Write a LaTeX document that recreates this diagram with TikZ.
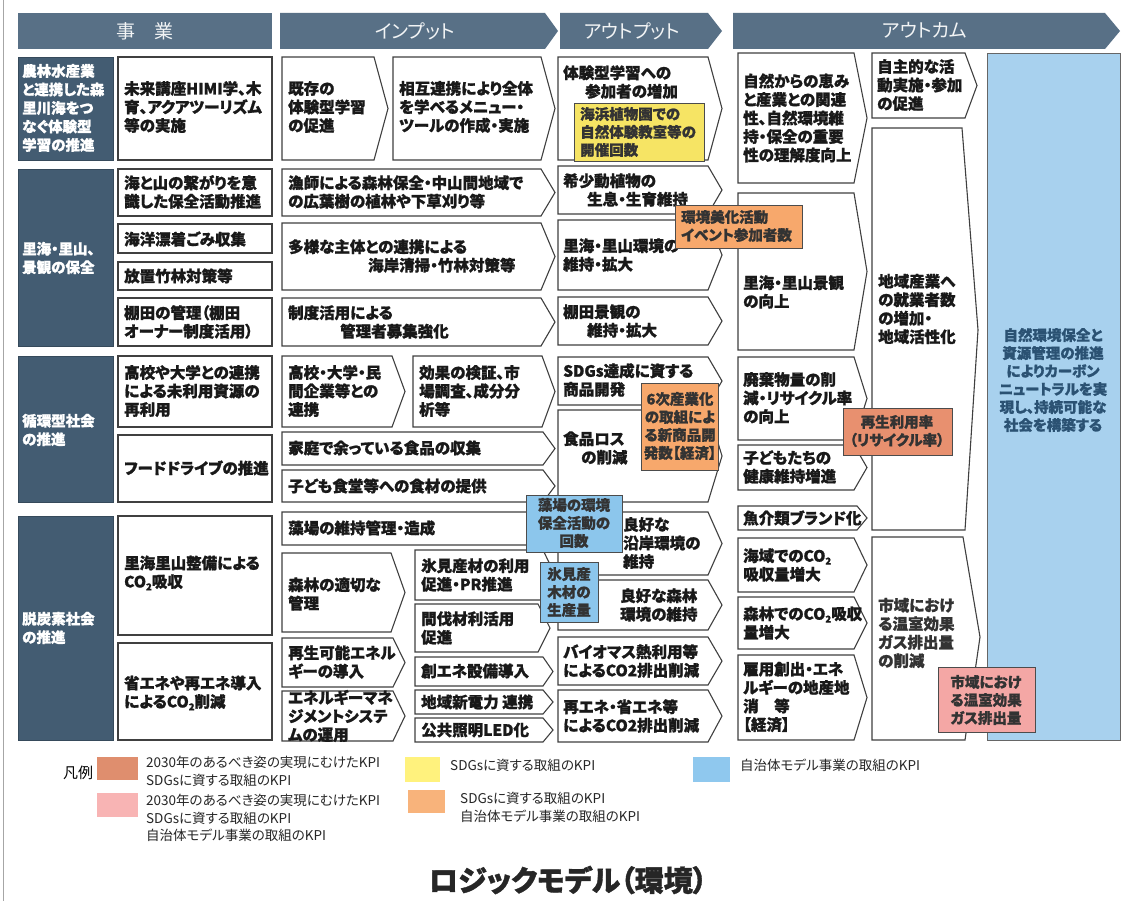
\documentclass[tikz,border=0pt]{standalone}
\usepackage{fontspec}
\setmainfont{Noto Sans CJK JP}[RawFeature=+palt, BoldFeatures={FakeBold=1.2}]
\definecolor{hdrc}{HTML}{587086}
\definecolor{catc}{HTML}{435C72}
\definecolor{bigblue}{HTML}{A8D1EE}
\definecolor{kblue}{HTML}{8CC6EC}
\definecolor{kyel}{HTML}{F6E464}
\definecolor{kora}{HTML}{F7A86C}
\definecolor{ksal}{HTML}{E8906F}
\definecolor{kpink}{HTML}{F4A7A5}
\definecolor{lsal}{HTML}{DF8E6E}
\definecolor{lpink}{HTML}{F8B4B4}
\definecolor{lyel}{HTML}{FFF27D}
\definecolor{lora}{HTML}{F8B37B}
\definecolor{lblue}{HTML}{8FC8EE}
\definecolor{bluetxt}{HTML}{2B5273}
\newcommand\chev[5]{\draw[box] (#1,#2) -- ({#3-#5},#2) -- (#3,{(#2+#4)/2}) -- ({#3-#5},#4) -- (#1,#4) -- cycle;}
\newcommand\cotwo{CO\raisebox{-0.35ex}{\fontsize{9.5}{9.5}\selectfont 2}}
\begin{document}
\begin{tikzpicture}[x=1pt,y=-1pt,
  box/.style={draw=black!75, line width=1.1pt, fill=white},
  hdr/.style={fill=hdrc},
  cat/.style={fill=catc, draw=catc!80!black, line width=0.6pt},
  kpi/.style={draw=black!70, line width=0.9pt},
  t/.style={font=\bfseries\fontsize{15.5}{18.5}\selectfont, align=left, inner sep=0pt, anchor=west, text=black!90},
  tk/.style={font=\bfseries\fontsize{14.5}{18}\selectfont, align=center, inner sep=0pt, text=black!80},
  ct/.style={font=\bfseries\fontsize{14.5}{18.5}\selectfont, align=left, inner sep=0pt, anchor=west, text=white},
  ht/.style={font=\fontsize{19}{22}\selectfont, text=white!92!hdrc, inner sep=0pt},
  lt/.style={font=\fontsize{13.5}{17.5}\selectfont, align=left, inner sep=0pt, anchor=north west, text=black!85}
]
\useasboundingbox (0,0) rectangle (1123,901);
\fill[white] (0,0) rectangle (1123,901);
\draw[gray!70, line width=1pt] (3,0) -- (3,901);

% headers
\fill[hdr] (18,13) rectangle (272,49);
\node[ht] (h1) at (145,31) {事　業};
\fill[hdr] (280,13) -- (545,13) -- (558,31) -- (545,49) -- (280,49) -- cycle;
\node[ht] (h2) at (415,31) {インプット};
\fill[hdr] (560,13) -- (708,13) -- (722,31) -- (708,49) -- (560,49) -- cycle;
\node[ht] (h3) at (632,31) {アウトプット};
\fill[hdr] (733,13) -- (1105,13) -- (1120,31) -- (1105,49) -- (733,49) -- cycle;
\node[ht] (h4) at (925,30) {アウトカム};

% category boxes
\draw[cat] (18,57) rectangle (113,160);
\node[ct] (c1) at (22,108) {農林水産業\\と連携した森\\里川海をつ\\なぐ体験型\\学習の推進};
\draw[cat] (18,169) rectangle (113,346);
\node[ct] (c2) at (22,258) {里海・里山、\\景観の保全};
\draw[cat] (18,356) rectangle (113,502);
\node[ct] (c3) at (22,430) {循環型社会\\の推進};
\draw[cat] (18,516) rectangle (113,740);
\node[ct] (c4) at (22,628) {脱炭素社会\\の推進};

% business boxes
\draw[box] (118,57) rectangle (272,160);
\node[t] (b1) at (124,107) {未来講座HIMI学、木\\育、アクアツーリズム\\等の実施};
\draw[box] (118,169) rectangle (272,216);
\node[t] (b2) at (124,192) {海と山の繋がりを意\\識した保全活動推進};
\draw[box] (118,224) rectangle (272,253);
\node[t] (b3) at (124,239) {海洋漂着ごみ収集};
\draw[box] (118,262) rectangle (272,290);
\node[t] (b4) at (124,276) {放置竹林対策等};
\draw[box] (118,298) rectangle (272,346);
\node[t] (b5) at (124,322) {棚田の管理（棚田\\オーナー制度活用）};
\draw[box] (118,356) rectangle (272,427);
\node[t] (b6) at (124,391) {高校や大学との連携\\による未利用資源の\\再利用};
\draw[box] (118,435) rectangle (272,502);
\node[t] (b7) at (124,468) {フードドライブの推進};
\draw[box] (118,516) rectangle (272,635);
\node[t] (b8) at (124,573) {里海里山整備による\\\cotwo 吸収};
\draw[box] (118,643) rectangle (272,740);
\node[t] (b9) at (124,693) {省エネや再エネ導入\\による\cotwo 削減};

% inputs
\chev{282}{57}{388}{160}{14}
\node[t] (i1) at (288,107) {既存の\\体験型学習\\の促進};
\chev{393}{57}{555}{160}{14}
\node[t] (i2) at (399,107) {相互連携により全体\\を学べるメニュー・\\ツールの作成・実施};
\chev{282}{169}{555}{216}{14}
\node[t] (i3) at (288,192) {漁師による森林保全・中山間地域で\\の広葉樹の植林や下草刈り等};
\chev{282}{223}{555}{290}{14}
\node[t] (i4) at (288,256) {多様な主体との連携による\\\hspace*{80pt}海岸清掃・竹林対策等};
\chev{282}{298}{555}{346}{14}
\node[t] (i5) at (288,322) {制度活用による\\\hspace*{52pt}管理者募集強化};
\chev{282}{356}{405}{427}{13}
\node[t] (i6) at (288,391) {高校・大学・民\\間企業等との\\連携};
\chev{413}{356}{555}{427}{13}
\node[t] (i7) at (419,391) {効果の検証、市\\場調査、成分分\\析等};
\chev{282}{432}{555}{465}{12}
\node[t] (i8) at (288,448) {家庭で余っている食品の収集};
\chev{282}{470}{555}{502}{12}
\node[t] (i9) at (288,486) {子ども食堂等への食材の提供};
\chev{282}{512}{560}{545}{12}
\node[t] (i10) at (288,528) {藻場の維持管理・造成};
\chev{282}{553}{405}{632}{14}
\node[t] (i11) at (288,594) {森林の適切な\\管理};
\chev{415}{550}{555}{600}{12}
\node[t] (i12) at (421,575) {氷見産材の利用\\促進・PR推進};
\chev{415}{604}{550}{652}{12}
\node[t] (i13) at (421,628) {間伐材利活用\\促進};
\chev{282}{638}{405}{687}{12}
\node[t] (i14) at (288,662) {再生可能エネル\\ギーの導入};
\chev{282}{691}{405}{741}{12}
\node[t] (i15) at (288,716) {エネルギーマネ\\ジメントシステ\\ムの運用};
\chev{415}{657}{553}{686}{10}
\node[t] (i16) at (421,671) {創エネ設備導入};
\chev{415}{690}{553}{714}{10}
\node[t] (i17) at (421,702) {地域新電力 連携};
\chev{415}{718}{553}{742}{10}
\node[t] (i18) at (421,730) {公共照明LED化};

% outputs
\chev{558}{57}{722}{160}{14}
\node[t] (o1) at (563,82) {体験型学習への\\\hspace*{22pt}参加者の増加};
\chev{558}{166}{722}{214}{14}
\node[t] (o2) at (563,190) {希少動植物の\\\hspace*{24pt}生息・生育維持};
\chev{558}{220}{722}{290}{14}
\node[t] (o3) at (563,255) {里海・里山環境の\\維持・拡大};
\chev{558}{297}{722}{345}{14}
\node[t] (o4) at (563,321) {棚田景観の\\\hspace*{24pt}維持・拡大};
\chev{558}{357}{722}{405}{14}
\node[t] (o5) at (563,380) {SDGs達成に資する\\商品開発};
\chev{558}{410}{722}{502}{14}
\node[t] (o6) at (563,448) {食品ロス\\\hspace*{18pt}の削減};
\chev{558}{512}{722}{575}{14}
\node[t] (o7) at (623,543) {良好な\\沿岸環境の\\維持};
\chev{558}{580}{722}{630}{14}
\node[t] (o8) at (620,605) {良好な森林\\環境の維持};
\chev{558}{637}{722}{685}{14}
\node[t] (o9) at (563,661) {バイオマス熱利用等\\によるCO2排出削減};
\chev{558}{690}{722}{742}{14}
\node[t] (o10) at (563,716) {再エネ・省エネ等\\によるCO2排出削減};

% outcomes
\chev{738}{53}{867}{183}{13}
\node[t] (u1) at (743,118) {自然からの恵み\\と産業との関連\\性、自然環境維\\持・保全の重要\\性の理解度向上};
\chev{738}{193}{867}{350}{13}
\node[t] (u2) at (743,292) {里海・里山景観\\の向上};
\chev{738}{357}{867}{440}{13}
\node[t] (u3) at (743,398) {廃棄物量の削\\減・リサイクル率\\の向上};
\chev{738}{445}{867}{490}{13}
\node[t] (u4) at (743,467) {子どもたちの\\健康維持増進};
\chev{738}{506}{867}{530}{10}
\node[t] (u5) at (743,518) {魚介類ブランド化};
\chev{738}{538}{867}{592}{13}
\node[t] (u6) at (743,565) {海域での\cotwo\\吸収量増大};
\chev{738}{597}{867}{649}{13}
\node[t] (u7) at (743,623) {森林での\cotwo 吸収\\量増大};
\chev{738}{655}{867}{740}{13}
\node[t] (u8) at (743,697) {雇用創出・エネ\\ルギーの地産地\\消　等\\【経済】};
\chev{872}{53}{977}{118}{12}
\node[t] (u9) at (877,85) {自主的な活\\動実施・参加\\の促進};
\draw[box] (872,128) -- (962,128) -- (978,330) -- (965,530) -- (872,530) -- cycle;
\node[t] (u10) at (878,309) {地域産業へ\\の就業者数\\の増加・\\地域活性化};
\draw[box] (872,537) -- (963,537) -- (980,637) -- (965,740) -- (872,740) -- cycle;
\node[t, text=black!80] (u11) at (878,633) {市域におけ\\る温室効果\\ガス排出量\\の削減};

% final goal
\draw[fill=bigblue, draw=black!60, line width=0.8pt] (987,53) rectangle (1120,740);
\node[tk, text=bluetxt] (g1) at (1053,380) {自然環境保全と\\資源管理の推進\\によりカーボン\\ニュートラルを実\\現し、持続可能な\\社会を構築する};

% KPI boxes
\draw[kpi, fill=kyel] (574,103) rectangle (704,161);
\node[tk, anchor=west, align=left] (k1) at (580,132) {海浜植物園での\\自然体験教室等の\\開催回数};
\draw[kpi, fill=kora] (675,205) rectangle (802,248);
\node[tk, anchor=west, align=left] (k2) at (681,226) {環境美化活動\\イベント参加者数};
\draw[kpi, fill=kora] (641,383) rectangle (718,470);
\node[tk] (k3) at (680,426) {6次産業化\\の取組によ\\る新商品開\\発数【経済】};
\draw[kpi, fill=ksal] (843,408) rectangle (952,455);
\node[tk] (k4) at (897,431) {再生利用率\\（リサイクル率）};
\draw[kpi, fill=kblue] (526,495) rectangle (622,552);
\node[tk] (k5) at (574,523) {藻場の環境\\保全活動の\\回数};
\draw[kpi, fill=kblue] (540,562) rectangle (598,622);
\node[tk] (k6) at (569,592) {氷見産\\木材の\\生産量};
\draw[kpi, fill=kpink] (938,667) rectangle (1035,732);
\node[tk] (k7) at (986,700) {市域におけ\\る温室効果\\ガス排出量};

% legend
\node[font=\fontsize{15}{18}\selectfont, inner sep=0pt] (lg) at (78,773) {凡例};
\fill[lsal] (97,757) rectangle (138,780);
\node[lt] (l1) at (146,756) {2030年のあるべき姿の実現にむけたKPI\\SDGsに資する取組のKPI};
\fill[lpink] (97,793) rectangle (138,817);
\node[lt] (l2) at (146,794) {2030年のあるべき姿の実現にむけたKPI\\SDGsに資する取組のKPI\\自治体モデル事業の取組のKPI};
\fill[lyel] (405,757) rectangle (440,782);
\node[lt] (l3) at (450,759) {SDGsに資する取組のKPI};
\fill[lora] (408,790) rectangle (445,813);
\node[lt] (l4) at (460,792) {SDGsに資する取組のKPI\\自治体モデル事業の取組のKPI};
\fill[lblue] (693,757) rectangle (730,782);
\node[lt] (l5) at (740,759) {自治体モデル事業の取組のKPI};

% title
\node[font=\bfseries\fontsize{29}{32}\selectfont, inner sep=0pt, text=black!85] (ttl) at (568,880) {ロジックモデル（環境）};
\end{tikzpicture}
\end{document}
